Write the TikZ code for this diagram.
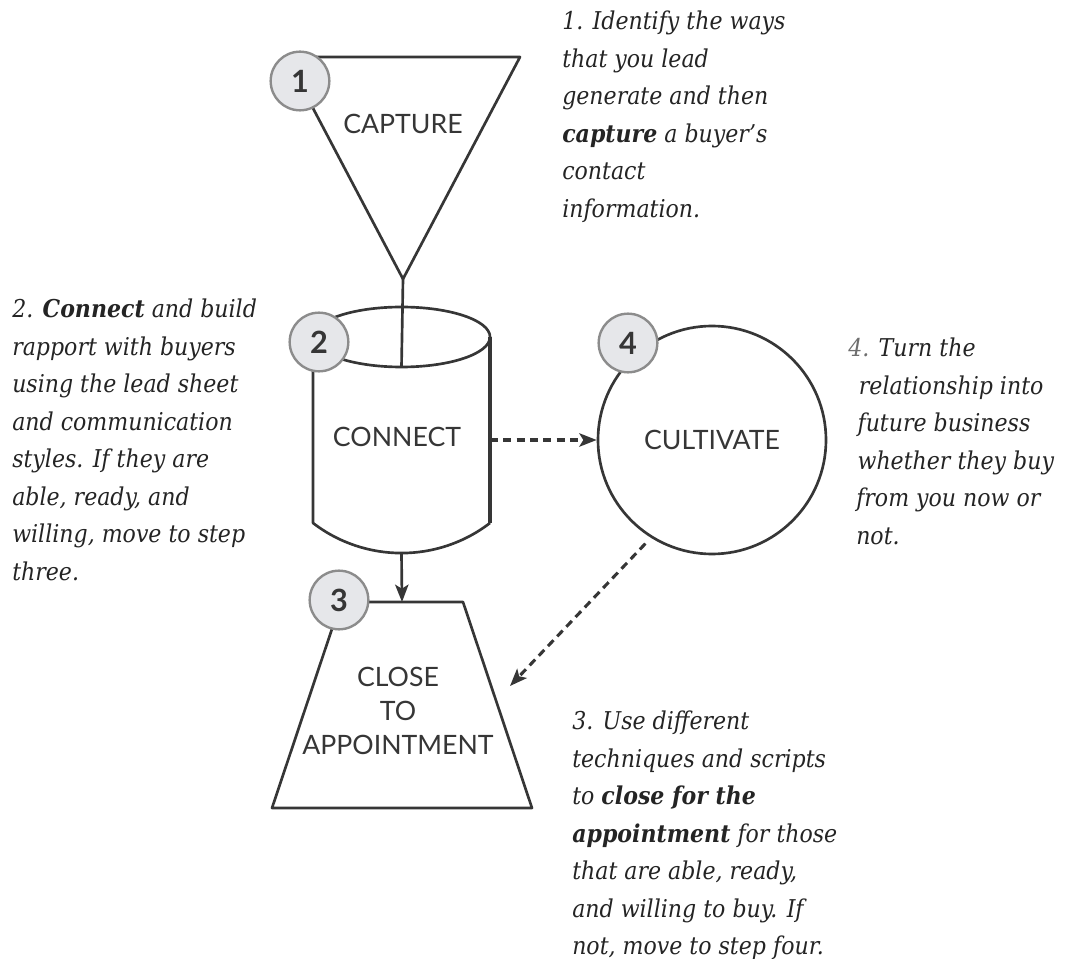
\documentclass[tikz,border=0pt]{standalone}
\usepackage{fontspec}
\setmainfont{DejaVu Serif}[FakeStretch=0.9]
\newfontfamily\labelfont{Lato}
\usetikzlibrary{arrows.meta}
\definecolor{ink}{HTML}{363636}
\definecolor{notetext}{HTML}{242424}
\definecolor{soft}{HTML}{6E6E6E}
\definecolor{badgefill}{HTML}{E6E7EA}
\definecolor{badgeedge}{HTML}{8C8C8C}
\begin{document}
\begin{tikzpicture}[x=0.75pt,y=-0.75pt,
  shapeline/.style={draw=ink, line width=2pt, line join=round},
  badge/.style={circle, draw=badgeedge, fill=badgefill, line width=1.8pt,
    minimum size=44pt, inner sep=0pt, text=ink,
    font=\labelfont\bfseries\fontsize{23}{23}\selectfont},
  shapelabel/.style={text=ink, align=center, inner sep=0pt,
    font=\labelfont\fontsize{20}{25.5}\selectfont},
  bigcircle/.style={circle, shapeline, minimum size=171pt, inner sep=0pt},
  note/.style={anchor=north west, inner sep=0pt, align=left, text=notetext,
    font=\itshape\fontsize{18.4}{28.1}\selectfont},
  flow/.style={draw=ink, line width=2pt,
    -{Stealth[length=13pt,width=10pt,inset=3pt]}},
  dflow/.style={flow, line width=2.3pt, dash pattern=on 6pt off 4pt}]
\useasboundingbox (0,0) rectangle (1065,959);

% step 1: capture funnel
\coordinate (triTL) at (286,57);
\coordinate (triTR) at (520,57);
\coordinate (triApex) at (403,279);
\draw[shapeline, fill=white] (triTL) -- (triTR) -- (triApex) -- cycle;
\node[shapelabel] (capture) at (403,124) {CAPTURE};

% step 2: connect cylinder
\coordinate (cylTop) at (401.5,337);
\coordinate (cylFront) at (401.5,367);
\coordinate (cylRight) at (490,440);
\coordinate (cylBottom) at (401.5,553);
\draw[shapeline] (313,337) -- (313,523)
  .. controls (365.2,563.1) and (437.8,563.1) .. (490,523);
\draw[shapeline, line width=2.6pt] (490,523) -- (490,337);
\draw[shapeline] (cylTop) ellipse [x radius=66.4pt, y radius=22.5pt];
\node[shapelabel] (connect) at (397,437) {CONNECT};
\draw[shapeline] (triApex) -- (cylFront);

% step 3: close trapezoid
\coordinate (trapTop) at (402,602);
\draw[shapeline] (341,602) -- (463,602) -- (532,808) -- (272,808) -- cycle;
\node[shapelabel] (close) at (398,711) {CLOSE\\TO\\APPOINTMENT};
\draw[flow] (cylBottom) -- (trapTop);

% step 4: cultivate circle
\node[bigcircle, shapelabel] (cult) at (712,440) {CULTIVATE};
\coordinate (cultEnd) at (510,686);
\draw[dflow] (cylRight) -- (cult.west);
\draw[dflow, shorten <=6pt] (cult.238.6) -- (cultEnd);

% numbered badges
\node[badge] (b1) at (300,81) {1};
\node[badge] (b2) at (319,342) {2};
\node[badge] (b3) at (339,600) {3};
\node[badge] (b4) at (628,343) {4};

% descriptions
\node[note] (n1) at (562,11) {1. Identify the ways\\that you lead\\generate and then\\\textbf{capture} a buyer’s\\contact\\information.};
\node[note] (n2) at (12,299) {2. \textbf{Connect} and build\\rapport with buyers\\using the lead sheet\\and communication\\styles. If they are\\able, ready, and\\willing, move to step\\three.};
\node[note] (n4) at (848,338) {{\color{soft}4.} Turn the\\\hspace*{8pt}relationship into\\\hspace*{7pt}future business\\\hspace*{7pt}whether they buy\\\hspace*{6pt}from you now or\\\hspace*{6pt}not.};
\node[note] (n3) at (572,711) {3. Use different\\techniques and scripts\\to \textbf{close for the}\\\textbf{appointment} for those\\that are able, ready,\\and willing to buy. If\\not, move to step four.};
\end{tikzpicture}
\end{document}
